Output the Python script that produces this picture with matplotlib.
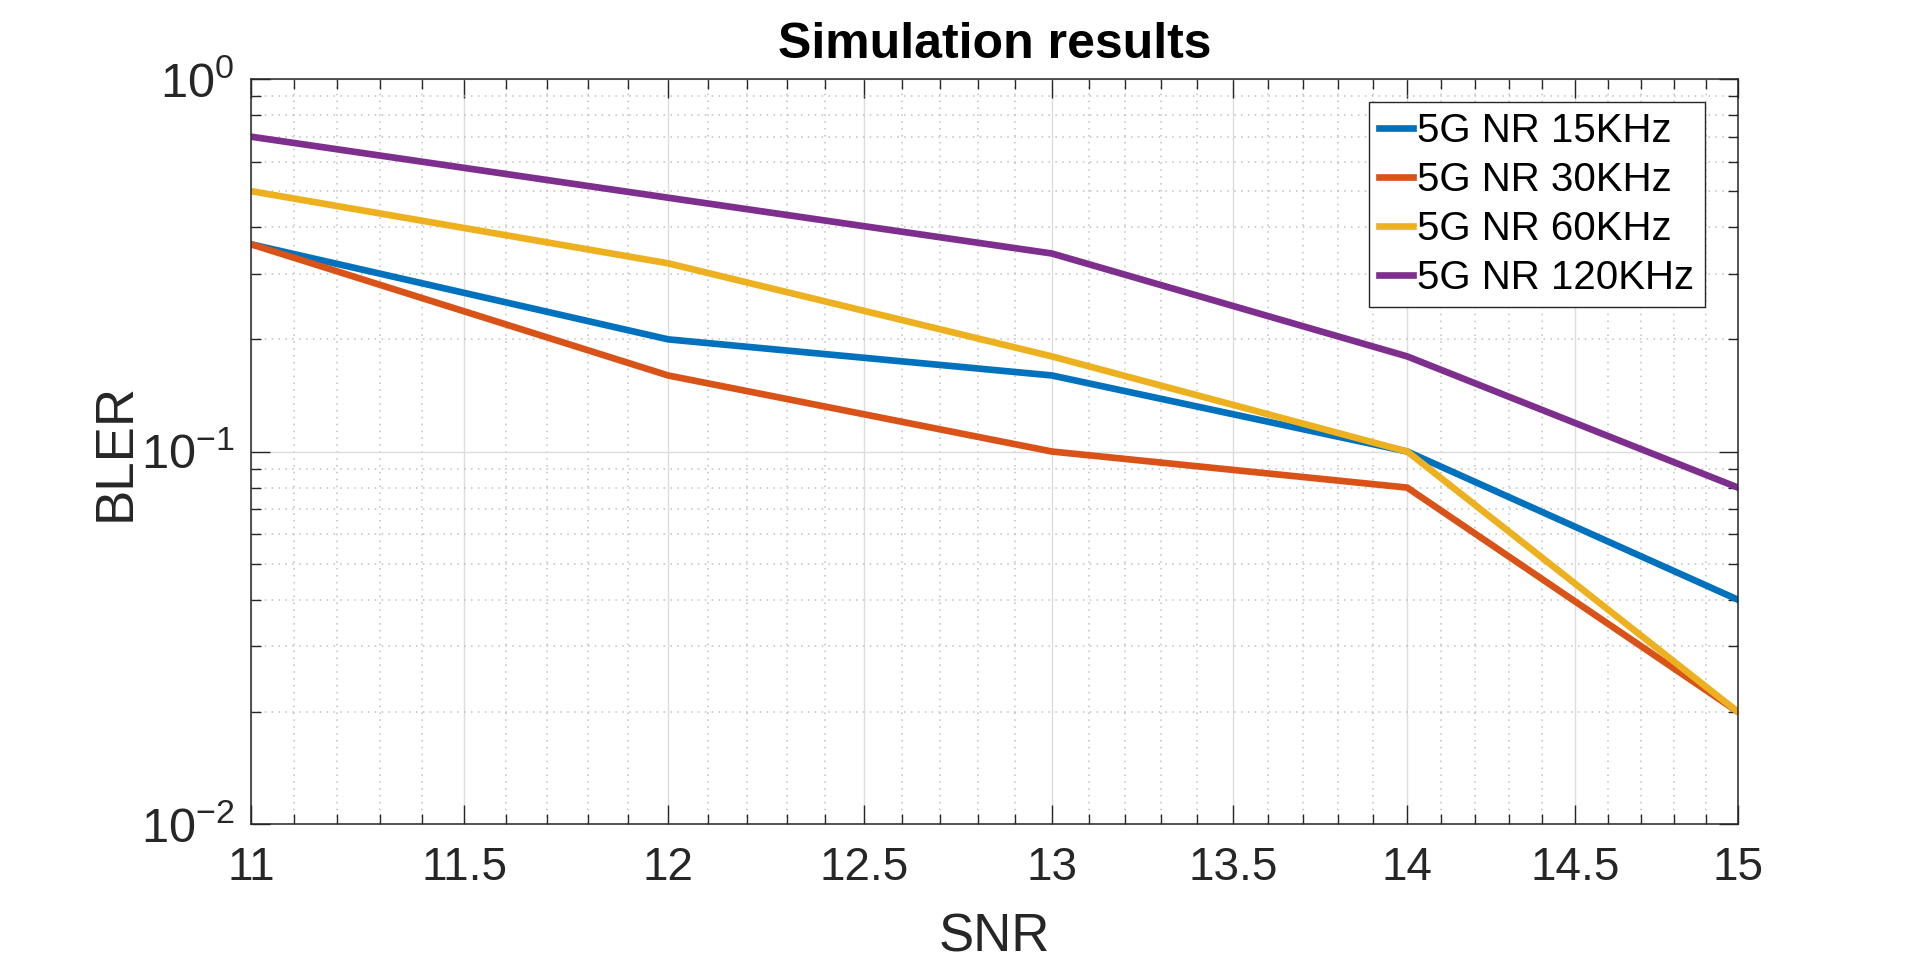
import numpy as np
import matplotlib
matplotlib.use('Agg')
import matplotlib.pyplot as plt
from matplotlib.ticker import FixedLocator, LogLocator, NullFormatter, LogFormatterMathtext

plt.rcParams['font.family'] = ['Liberation Sans', 'DejaVu Sans']
plt.rcParams['mathtext.fontset'] = 'custom'
plt.rcParams['mathtext.rm'] = 'Liberation Sans'
plt.rcParams['mathtext.it'] = 'Liberation Sans:italic'
plt.rcParams['mathtext.bf'] = 'Liberation Sans:bold'
plt.rcParams['axes.unicode_minus'] = False

snr = [11, 12, 13, 14, 15]
bler_15 = [0.36, 0.20, 0.16, 0.10, 0.04]
bler_30 = [0.36, 0.16, 0.10, 0.08, 0.02]
bler_60 = [0.50, 0.32, 0.18, 0.10, 0.02]
bler_120 = [0.70, 0.48, 0.34, 0.18, 0.08]
labels = ['5G NR 15KHz', '5G NR 30KHz', '5G NR 60KHz', '5G NR 120KHz']
colors = ['#0072BD', '#D95319', '#EDB120', '#7E2F8E']

x_major = [11, 11.5, 12, 12.5, 13, 13.5, 14, 14.5, 15]
x_major_labels = ['11', '11.5', '12', '12.5', '13', '13.5', '14', '14.5', '15']

txt_col = '#262626'

fig = plt.figure(figsize=(19.2, 9.63), dpi=100)
ax = fig.add_axes([0.1307, 0.1443, 0.7745, 0.7737])

for y, lab, c in zip([bler_15, bler_30, bler_60, bler_120], labels, colors):
    ax.plot(snr, y, color=c, lw=4.8, label=lab, solid_joinstyle='miter')

ax.set_xscale('log')
ax.set_yscale('log')
ax.set_xlim(11, 15)
ax.set_ylim(1e-2, 1e0)

ax.xaxis.set_major_locator(FixedLocator(x_major))
ax.set_xticklabels(x_major_labels)
x_minor = [v for v in np.round(np.arange(11.0, 15.01, 0.1), 1) if v not in x_major]
ax.xaxis.set_minor_locator(FixedLocator(x_minor))
ax.xaxis.set_minor_formatter(NullFormatter())

ax.yaxis.set_major_locator(LogLocator(base=10, numticks=10))
ax.yaxis.set_major_formatter(LogFormatterMathtext())
ax.yaxis.set_minor_locator(LogLocator(base=10, subs=np.arange(2, 10), numticks=10))
ax.yaxis.set_minor_formatter(NullFormatter())

ax.tick_params(which='both', direction='in', top=True, right=True, colors=txt_col,
               labelcolor=txt_col)
ax.tick_params(which='major', length=14, width=1.0, labelsize=33)
ax.tick_params(which='minor', length=7, width=1.0)
ax.tick_params(axis='x', which='major', pad=16)
ax.tick_params(axis='y', which='major', pad=12, labelsize=35)

ax.grid(which='major', color='#dcdcdc', lw=1.0, ls='-')
ax.grid(which='minor', color='#c0c0c0', lw=1.1, ls=(0, (1, 3.5)))
ax.set_axisbelow(True)

for s in ax.spines.values():
    s.set_color(txt_col)
    s.set_linewidth(1.1)

ax.set_xlabel('SNR', fontsize=38, color=txt_col, labelpad=16)
ax.set_ylabel('BLER', fontsize=38, color=txt_col, labelpad=0)
ax.set_title('Simulation results', fontsize=36, fontweight='bold', color='black', pad=15)

lgd = ax.legend(loc='upper right', bbox_to_anchor=(0.9775, 0.9692), fontsize=29,
                frameon=True, fancybox=False, edgecolor=txt_col, framealpha=1,
                borderaxespad=0, borderpad=0.25, handlelength=0.85, handletextpad=0.1,
                labelspacing=0.27)
lgd.get_frame().set_linewidth(1.0)

plt.savefig('out.png', dpi=100)
